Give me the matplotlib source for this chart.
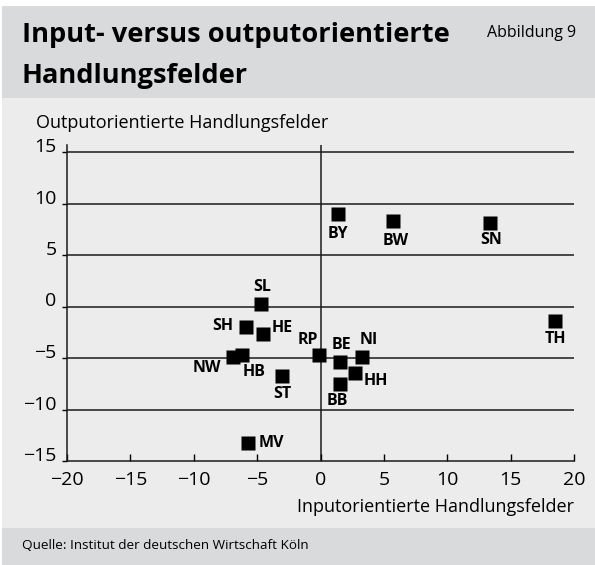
import matplotlib
matplotlib.use("Agg")
import matplotlib.pyplot as plt
from matplotlib.patches import Rectangle

plt.rcParams['font.family'] = ['Open Sans', 'DejaVu Sans']

# Bundeslaender: input- (x) vs. outputorientierte (y) Handlungsfelder
laender = ['SL', 'SH', 'HE', 'NW', 'HB', 'ST', 'RP', 'BE', 'NI', 'HH', 'BB', 'MV',
           'BY', 'BW', 'SN', 'TH']
input_werte = [-4.7, -5.9, -4.5, -6.9, -6.2, -3.0, -0.1, 1.5, 3.3, 2.7, 1.5, -5.7,
               1.4, 5.7, 13.4, 18.5]
output_werte = [0.2, -2.0, -2.7, -4.9, -4.7, -6.7, -4.75, -5.35, -4.95, -6.45, -7.5, -13.3,
                9.0, 8.3, 8.1, -1.4]

x_ticks = [-20, -15, -10, -5, 0, 5, 10, 15, 20]
y_ticks = [-15, -10, -5, 0, 5, 10, 15]

# label offsets in pixels (dx, dy) from the marker
offsets = {
    'SL': (1, 17), 'SH': (-23, 1), 'HE': (19, 6), 'NW': (-26, -11),
    'HB': (12, -17), 'ST': (0, -18.5), 'RP': (-11, 15.5), 'BE': (2, 17),
    'NI': (6, 17.5), 'HH': (21, -8), 'BB': (-2, -17), 'MV': (23, 0),
    'BY': (0, -20), 'BW': (3, -20), 'SN': (1, -17), 'TH': (0, -18),
}

W, H = 595, 565
fig = plt.figure(figsize=(W / 100, H / 100), dpi=100)
fig.patch.set_facecolor('white')

def band(y0, y1, color):
    fig.patches.append(Rectangle((2 / W, 1 - y1 / H), 1 - 2 / W, (y1 - y0) / H,
                                 transform=fig.transFigure, facecolor=color,
                                 edgecolor='none', zorder=-5))

band(6, 97.7, '#d9dadc')
band(97.7, 528, '#ececec')
band(528, 565, '#d9dadc')

fig.text(21.7 / W, 1 - 41.7 / H, 'Input- versus outputorientierte', fontsize=19.6,
         fontweight='bold', va='baseline', ha='left')
fig.text(21.7 / W, 1 - 83.3 / H, 'Handlungsfelder', fontsize=19.6,
         fontweight='bold', va='baseline', ha='left')
fig.text(487 / W, 1 - 37 / H, 'Abbildung 9', fontsize=11.5, va='baseline', ha='left')
fig.text(22 / W, 1 - 549 / H, 'Quelle: Institut der deutschen Wirtschaft Köln',
         fontsize=9.7, va='baseline', ha='left')

ax = fig.add_axes([67 / W, 1 - 461 / H, (574 - 67) / W, (461 - 145) / H])
ax.set_facecolor('none')
ax.set_xlim(-20, 20)
ax.set_ylim(-15, 15 + 7 / 10.3)

for y in y_ticks[1:]:
    ax.axhline(y, color='#1a1a1a', lw=1.1, zorder=1)
ax.axvline(0, color='#1a1a1a', lw=1.1, zorder=1)

ax.plot(input_werte, output_werte, ls='none', marker='s', ms=10.6, color='black',
        mec='none', zorder=3)
for name, x, y in zip(laender, input_werte, output_werte):
    dx, dy = offsets[name]
    ax.annotate(name, (x, y), xytext=(dx, dy), textcoords='offset pixels',
                ha='center', va='center', fontsize=11.5, fontweight='bold', zorder=4)

for side in ['top', 'right']:
    ax.spines[side].set_visible(False)
for side in ['left', 'bottom']:
    ax.spines[side].set_linewidth(1.1)
    ax.spines[side].set_color('#1a1a1a')

ax.set_xticks(x_ticks)
ax.set_yticks(y_ticks)
ax.set_xticklabels([f'{v}'.replace('-', '\u2212') for v in x_ticks])
ax.set_yticklabels([f'{v}'.replace('-', '\u2212') for v in y_ticks])
ax.tick_params(axis='x', direction='in', length=5, width=1.0, pad=7, labelsize=14)
ax.tick_params(axis='y', direction='out', length=3.5, width=1.0, pad=4, labelsize=14)
for lab in ax.get_yticklabels():
    lab.set_verticalalignment('baseline')

fig.text(36 / W, 1 - 128 / H, 'Outputorientierte Handlungsfelder', fontsize=13,
         va='baseline', ha='left')
fig.text(574 / W, 1 - 512 / H, 'Inputorientierte Handlungsfelder', fontsize=13,
         va='baseline', ha='right')

fig.savefig('out.png', dpi=100, facecolor=fig.get_facecolor())
